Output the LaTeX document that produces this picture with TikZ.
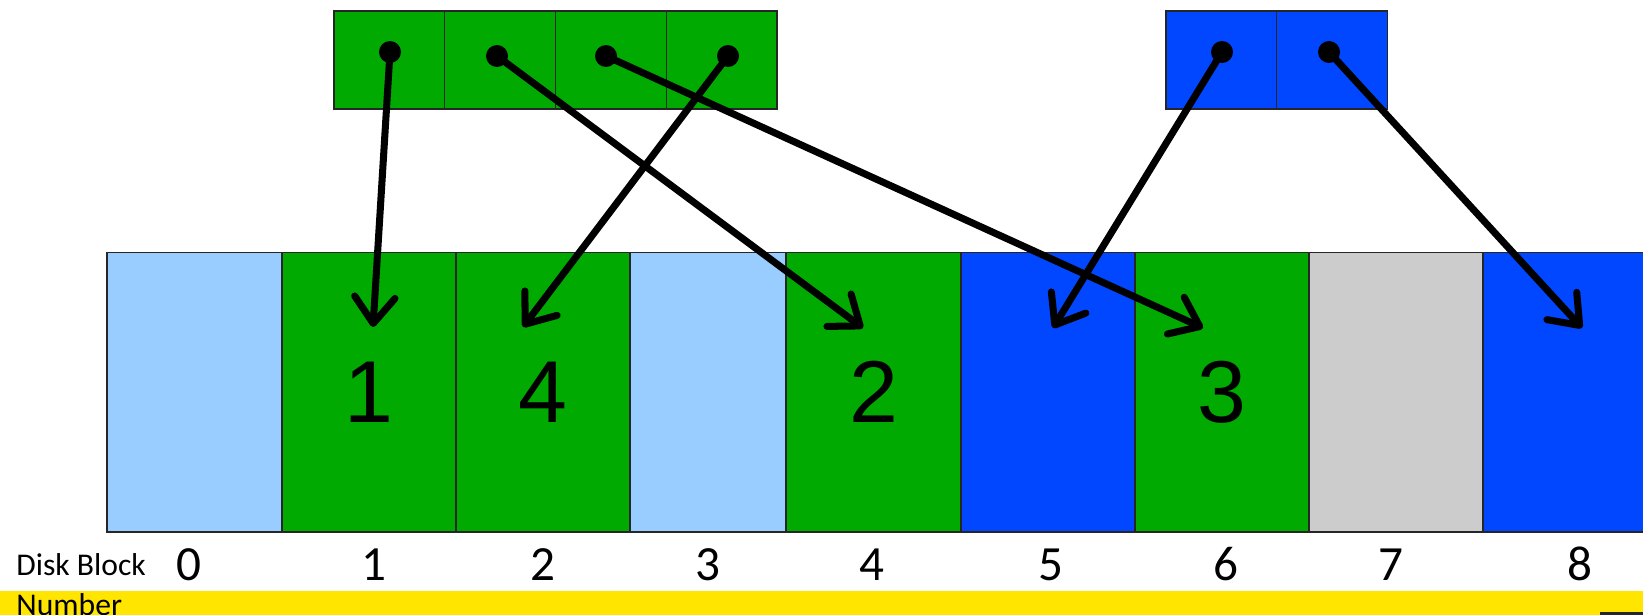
\documentclass[tikz,border=0pt]{standalone}
\usepackage{fontspec}
\setmainfont{Carlito}
\newfontfamily\arialfont{Liberation Sans}
\usetikzlibrary{arrows.meta}
\definecolor{blkGreen}{HTML}{00AA00}
\definecolor{blkBlue}{HTML}{0047FF}
\definecolor{blkLight}{HTML}{99CCFF}
\definecolor{blkGray}{HTML}{CCCCCC}
\definecolor{barYellow}{HTML}{FFE500}
\tikzset{
  cell/.style={draw=black!85, line width=0.6pt, inner sep=0pt, outer sep=0pt, minimum height=5.6cm, anchor=south west, font=\arialfont\fontsize{50}{60}\selectfont},
  slot/.style={draw=black!85, line width=0.6pt, inner sep=0pt, outer sep=0pt, minimum width=2.215cm, minimum height=1.96cm, anchor=north west},
  dot/.style={circle, fill=black, inner sep=0pt, minimum size=0.44cm},
  ptr/.style={line width=4pt, line cap=round, -{Straight Barb[length=15pt, width=23pt, round]}},
  numlabel/.style={font=\fontsize{28}{34}\selectfont, anchor=base},
  sidelabel/.style={anchor=base west, inner sep=0pt, font=\fontsize{18}{22}\selectfont},
}
\begin{document}
\begin{tikzpicture}[x=0.02cm, y=-0.02cm]
\clip (0,0) rectangle (1643,615);
% disk blocks
\foreach \l/\r/\c/\t/\n in {107/282/blkLight/{}/0, 282/456/blkGreen/1/1, 456/630/blkGreen/4/2, 630/786/blkLight/{}/3, 786/961/blkGreen/2/4, 961/1135/blkBlue/{}/5, 1135/1309/blkGreen/3/6, 1309/1483/blkGray/{}/7, 1483/1660/blkBlue/{}/8}
  \node[cell, fill=\c, minimum width={(\r-\l)*0.02cm}] (d\n) at (\l,532) {\t};
% index blocks
\foreach \i in {0,...,3}
  \node[slot, fill=blkGreen] (g\i) at ({334+\i*110.75},11) {};
\foreach \i in {0,1}
  \node[slot, fill=blkBlue] (u\i) at ({1166+\i*110.5},11) {};
% pointer targets
\coordinate (t1) at (373,327);
\coordinate (t2) at (863,328);
\coordinate (t3) at (1203,328);
\coordinate (t4) at (523,327);
\coordinate (t5) at (1053,328);
\coordinate (t8) at (1582,328);
\node[dot] (p1) at (390,52) {};
\node[dot] (p2) at (497,56) {};
\node[dot] (p3) at (606,56) {};
\node[dot] (p4) at (728,56) {};
\node[dot] (q1) at (1222,52) {};
\node[dot] (q2) at (1329,52) {};
\draw[ptr] (p1.center) -- (t1);
\draw[ptr] (p2.center) -- (t2);
\draw[ptr] (p3.center) -- (t3);
\draw[ptr] (p4.center) -- (t4);
\draw[ptr] (q1.center) -- (t5);
\draw[ptr] (q2.center) -- (t8);
% bottom bar and labels
\fill[barYellow] (0,591) rectangle (1643,615);
\fill[black!85] (1600,612) rectangle (1643,615);
\node[sidelabel] (lbl) at (16,575) {Disk Block};
\node[sidelabel] (lblb) at (16,615) {Number};
\foreach \x/\n in {189/0, 374/1, 543/2, 708/3, 872/4, 1051/5, 1226/6, 1391/7, 1580/8}
  \node[numlabel] (n\n) at (\x,580) {\n};
\end{tikzpicture}
\end{document}
